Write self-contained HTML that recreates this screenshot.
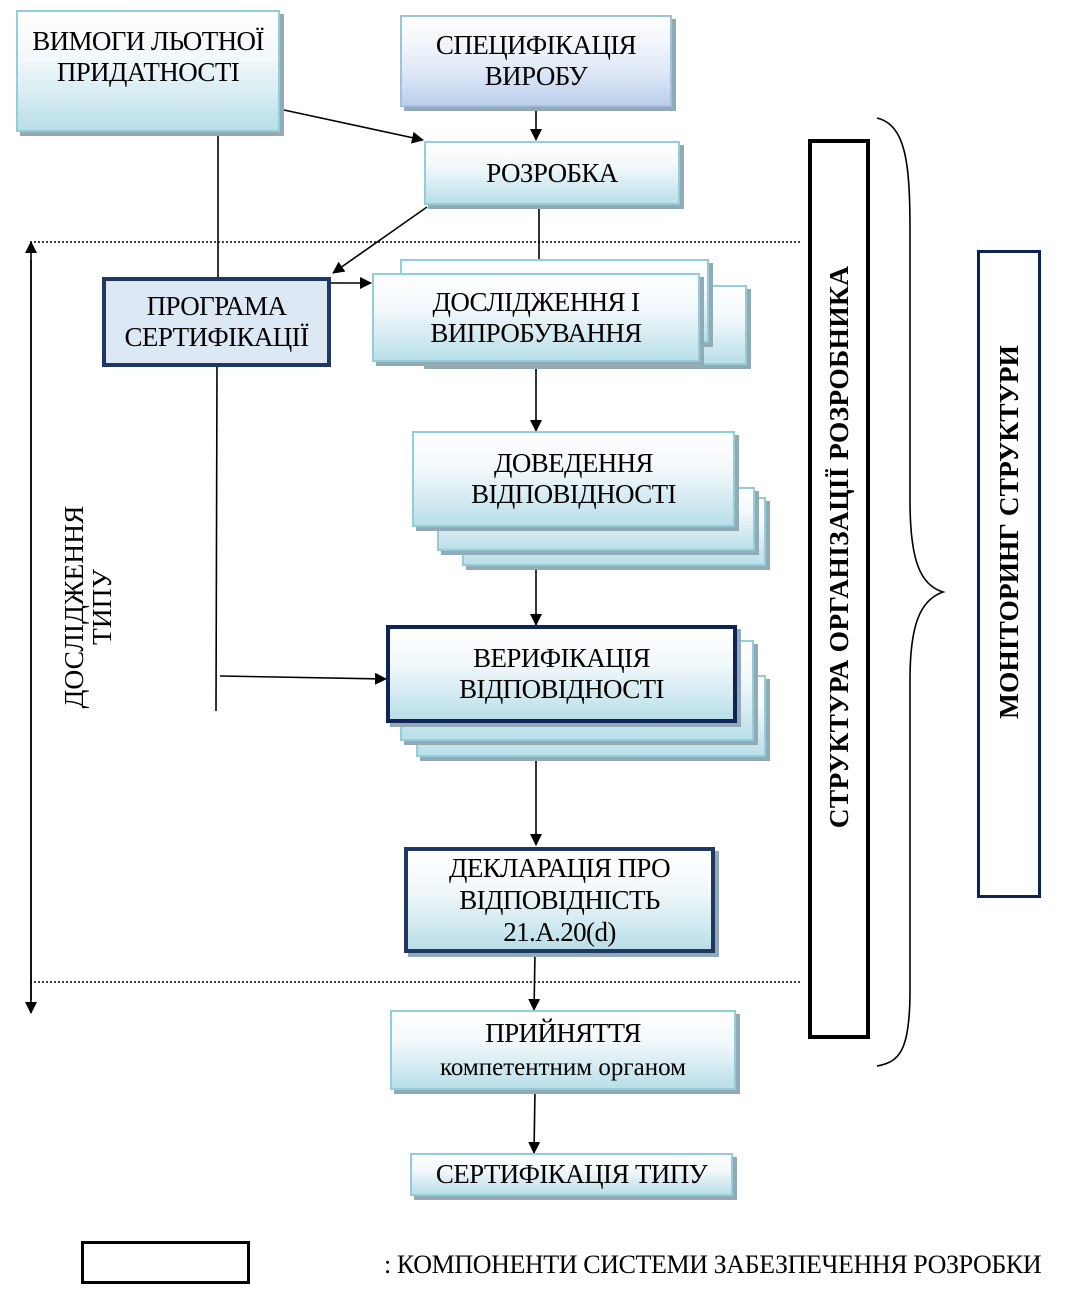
<!DOCTYPE html>
<html><head><meta charset="utf-8"><style>
body{margin:0;width:1074px;height:1298px;background:#fff;position:relative;overflow:hidden;font-family:"Liberation Serif",serif;}
.b{position:absolute;box-sizing:border-box;border:2px solid #92cddc;background:linear-gradient(#fff,#f2f8fb 40%,#b9dfe8);box-shadow:4px 4px 0 #93a9b4;display:flex;align-items:center;justify-content:center;text-align:center;font-size:27px;line-height:31px;color:#000;letter-spacing:-0.6px;}
.d{border:4px solid #1f3763;}
.s{position:absolute;}
</style></head><body>
<svg class="s" width="1074" height="1298" style="left:0;top:0;z-index:0">
<defs><marker id="a" markerWidth="12" markerHeight="12" refX="11" refY="6" orient="auto" markerUnits="userSpaceOnUse"><path d="M0,0 L12,6 L0,12z" fill="#000"/></marker></defs>
<g stroke="#000" stroke-width="1.6" fill="none">
<line x1="30" y1="242" x2="800" y2="242" stroke-dasharray="2,2"/>
<line x1="30" y1="982" x2="800" y2="982" stroke-dasharray="2,2"/>
<line x1="31" y1="1000" x2="31" y2="242" marker-end="url(#a)"/>
<line x1="31" y1="260" x2="31" y2="1013" marker-end="url(#a)"/>
<line x1="218" y1="132" x2="218" y2="277"/>
<line x1="217" y1="367" x2="216" y2="711"/>
<line x1="220" y1="676" x2="386" y2="679" marker-end="url(#a)"/>
<line x1="284" y1="110" x2="423" y2="140" marker-end="url(#a)"/>
<line x1="536" y1="108" x2="536" y2="140" marker-end="url(#a)"/>
<line x1="427" y1="207" x2="333" y2="273" marker-end="url(#a)"/>
<line x1="539" y1="205" x2="539" y2="275" marker-end="url(#a)"/>
<line x1="331" y1="283" x2="371" y2="283" marker-end="url(#a)"/>
<line x1="536" y1="362" x2="536" y2="431" marker-end="url(#a)"/>
<line x1="536" y1="566" x2="536" y2="625" marker-end="url(#a)"/>
<line x1="536" y1="757" x2="536" y2="845" marker-end="url(#a)"/>
<line x1="535" y1="953" x2="534" y2="1010" marker-end="url(#a)"/>
<line x1="535" y1="1090" x2="534" y2="1153" marker-end="url(#a)"/>
<path d="M877,118 C905,125 910,160 910,230 L910,500 C910,560 920,585 943,592 C920,600 910,625 910,680 L910,990 C910,1050 900,1062 877,1066"/>
</g>
<rect x="810" y="141" width="58" height="896" fill="none" stroke="#000" stroke-width="4"/>
<rect x="978.5" y="251.5" width="61" height="645" fill="none" stroke="#0e2357" stroke-width="3"/>
<rect x="82.5" y="1242.5" width="166" height="40" fill="none" stroke="#000" stroke-width="3"/>
</svg>
<div class="b" style="left:16px;top:10px;width:264px;height:122px;align-items:flex-start;padding-top:14px">ВИМОГИ ЛЬОТНОЇ<br>ПРИДАТНОСТІ</div>
<div class="b" style="left:400px;top:15px;width:272px;height:92px;background:linear-gradient(#fff,#e8eef8 50%,#bdd0ec);border-color:#9fc2dc">СПЕЦИФІКАЦІЯ<br>ВИРОБУ</div>
<div class="b" style="left:424px;top:141px;width:256px;height:64px">РОЗРОБКА</div>
<div class="b d" style="left:102px;top:277px;width:229px;height:90px;background:#dde8f5;box-shadow:none">ПРОГРАМА<br>СЕРТИФІКАЦІЇ</div>
<div class="b" style="left:420px;top:285px;width:327px;height:80px"></div>
<div class="b" style="left:400px;top:259px;width:309px;height:84px"></div>
<div class="b" style="left:372px;top:273px;width:328px;height:89px">ДОСЛІДЖЕННЯ І<br>ВИПРОБУВАННЯ</div>
<div class="b" style="left:462px;top:497px;width:304px;height:69px"></div>
<div class="b" style="left:437px;top:487px;width:318px;height:64px"></div>
<div class="b" style="left:412px;top:431px;width:323px;height:96px">ДОВЕДЕННЯ<br>ВІДПОВІДНОСТІ</div>
<div class="b" style="left:416px;top:675px;width:350px;height:82px"></div>
<div class="b" style="left:400px;top:640px;width:354px;height:101px"></div>
<div class="b d" style="left:386px;top:625px;width:351px;height:98px;border-color:#0e2357">ВЕРИФІКАЦІЯ<br>ВІДПОВІДНОСТІ</div>
<div class="b d" style="left:404px;top:847px;width:311px;height:106px;line-height:32px">ДЕКЛАРАЦІЯ ПРО<br>ВІДПОВІДНІСТЬ<br>21.А.20(d)</div>
<div class="b" style="left:390px;top:1010px;width:346px;height:80px;line-height:33px"><div>ПРИЙНЯТТЯ<br><span style="font-size:25px;letter-spacing:0">компетентним органом</span></div></div>
<div class="b" style="left:410px;top:1153px;width:323px;height:43px">СЕРТИФІКАЦІЯ ТИПУ</div>
<div class="s" style="left:839px;top:547px;width:0;height:0"><div style="position:absolute;transform:translate(-50%,-50%) rotate(-90deg);white-space:nowrap;font-size:27.5px;font-weight:bold;letter-spacing:0.3px">СТРУКТУРА ОРГАНІЗАЦІЇ РОЗРОБНИКА</div></div>
<div class="s" style="left:1009px;top:532px;width:0;height:0"><div style="position:absolute;transform:translate(-50%,-50%) rotate(-90deg);white-space:nowrap;font-size:27.5px;font-weight:bold">МОНІТОРИНГ СТРУКТУРИ</div></div>
<div class="s" style="left:88px;top:607px;width:0;height:0"><div style="position:absolute;transform:translate(-50%,-50%) rotate(-90deg);white-space:nowrap;font-size:27.5px;line-height:28px;text-align:center">ДОСЛІДЖЕННЯ<br>ТИПУ</div></div>
<div class="s" style="left:384px;top:1250px;font-size:26px;white-space:nowrap;letter-spacing:-0.4px">: КОМПОНЕНТИ СИСТЕМИ ЗАБЕЗПЕЧЕННЯ РОЗРОБКИ</div>
</body></html>
